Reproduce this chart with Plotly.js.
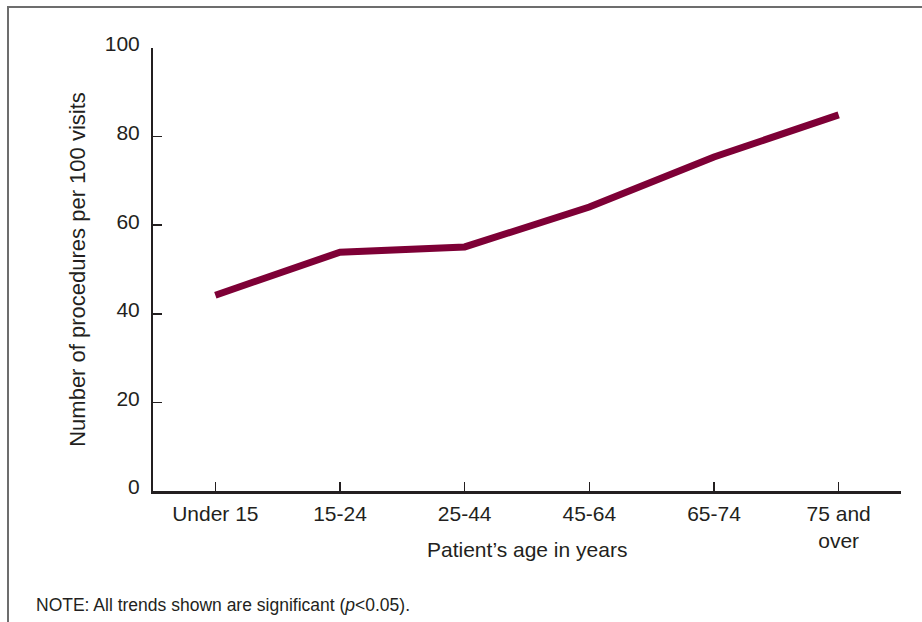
<!DOCTYPE html>
<html>
<head>
<meta charset="utf-8">
<script src="https://cdn.plot.ly/plotly-3.0.1.min.js"></script>
<style>
  html, body { margin: 0; padding: 0; background: #fff; }
  #wrap { position: relative; width: 922px; height: 622px; overflow: hidden; }
  #frame { position: absolute; left: 7px; top: 6px; width: 930px; height: 640px;
           border-left: 2px solid #6d6d6d; border-top: 2px solid #6d6d6d; box-sizing: border-box; pointer-events: none; }
  #chart { position: absolute; left: 0; top: 0; width: 922px; height: 622px; }
</style>
</head>
<body>
<div id="wrap">
  <div id="chart"></div>
  <div id="frame"></div>
</div>
<script>
const categories = ["Under 15", "15-24", "25-44", "45-64", "65-74", "75 and<br>over"];
const procedures = [44.2, 53.9, 55.1, 64.1, 75.4, 84.9];
const yTicks = [0, 20, 40, 60, 80, 100];
const xTitle = "Patient’s age in years";
const yTitle = "Number of procedures per 100 visits";
const note = "NOTE: All trends shown are significant (<i>p</i><0.05).";

const FONT = "Liberation Sans, Arial, Helvetica, sans-serif";
const INK = "#231f20";

const trace = {
  type: "scatter",
  mode: "lines",
  x: categories,
  y: procedures,
  line: { color: "#7e0036", width: 7 },
  hoverinfo: "skip"
};

const layout = {
  width: 922,
  height: 622,
  margin: { l: 153, r: 21, t: 48, b: 131 },
  paper_bgcolor: "#ffffff",
  plot_bgcolor: "#ffffff",
  showlegend: false,
  font: { family: FONT, color: INK },
  xaxis: {
    type: "category",
    range: [-0.5, 5.5],
    showline: true,
    linecolor: INK,
    linewidth: 2.5,
    ticks: "inside",
    ticklen: 9,
    tickwidth: 1.5,
    tickcolor: INK,
    showgrid: false,
    zeroline: false,
    tickfont: { size: 21, family: FONT, color: INK },
    ticklabelstandoff: 2
  },
  yaxis: {
    range: [0, 100],
    tickvals: yTicks,
    ticktext: yTicks.map(String),
    showline: true,
    linecolor: INK,
    linewidth: 2,
    ticks: "inside",
    ticklen: 9,
    tickwidth: 1.5,
    tickcolor: INK,
    showgrid: false,
    zeroline: false,
    tickfont: { size: 21, family: FONT, color: INK },
    ticklabelstandoff: 7,
    ticklabelshift: -4,
    title: { text: yTitle, font: { size: 22, family: FONT, color: INK }, standoff: 13 }
  },
  annotations: [
    {
      xref: "paper", yref: "paper",
      x: 0.5, y: -0.133,
      xanchor: "center", yanchor: "middle",
      showarrow: false,
      text: xTitle,
      font: { size: 21, family: FONT, color: INK }
    },
    {
      xref: "paper", yref: "paper",
      x: -0.159, y: -0.257,
      xanchor: "left", yanchor: "middle",
      showarrow: false,
      align: "left",
      text: note,
      font: { size: 17.5, family: FONT, color: INK }
    }
  ]
};

Plotly.newPlot("chart", [trace], layout, { staticPlot: true, displayModeBar: false });
</script>
</body>
</html>
